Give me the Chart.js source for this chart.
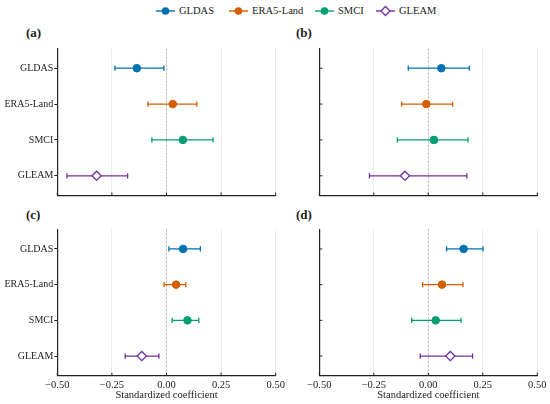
<!DOCTYPE html>
<html>
<head>
<meta charset="utf-8">
<script src="https://cdn.jsdelivr.net/npm/chart.js@4.4.0/dist/chart.umd.min.js"></script>
<style>
  body { margin: 0; width: 550px; height: 404px; background: #fff; position: relative; overflow: hidden;
         font-family: "Liberation Serif", "Times New Roman", serif; color: #222; }
  canvas { position: absolute; }
  .tag { position: absolute; font-weight: bold; font-size: 13px; line-height: 14px; }
  .leg { position: absolute; top: 4px; display: flex; align-items: center; font-size: 10.5px; line-height: 14px; }
  .leg svg { margin-right: 4px; }
</style>
</head>
<body>
<div class="leg" style="left:156px"><svg width="19" height="12"><line x1="0" y1="6" x2="19" y2="6" stroke="#0072B2" stroke-width="1.4"/><circle cx="9.5" cy="6" r="3.8" fill="#0072B2"/></svg>GLDAS</div>
<div class="leg" style="left:229px"><svg width="19" height="12"><line x1="0" y1="6" x2="19" y2="6" stroke="#D55E00" stroke-width="1.4"/><circle cx="9.5" cy="6" r="3.8" fill="#D55E00"/></svg>ERA5-Land</div>
<div class="leg" style="left:315px"><svg width="19" height="12"><line x1="0" y1="6" x2="19" y2="6" stroke="#009E73" stroke-width="1.4"/><circle cx="9.5" cy="6" r="3.8" fill="#009E73"/></svg>SMCI</div>
<div class="leg" style="left:376px"><svg width="19" height="12"><line x1="0" y1="6" x2="19" y2="6" stroke="#7030A0" stroke-width="1.4"/><path d="M5,6 L9.5,1.5 L14,6 L9.5,10.5 Z" fill="#fff" stroke="#7030A0" stroke-width="1.3"/></svg>GLEAM</div>

<div class="tag" style="left:26px;top:26px">(a)</div>
<div class="tag" style="left:296px;top:26px">(b)</div>
<div class="tag" style="left:26px;top:208px">(c)</div>
<div class="tag" style="left:296px;top:208px">(d)</div>

<canvas id="pa" width="285" height="165" style="left:0;top:40px"></canvas>
<canvas id="pb" width="265" height="165" style="left:285px;top:40px"></canvas>
<canvas id="pc" width="285" height="182" style="left:0;top:222px"></canvas>
<canvas id="pd" width="265" height="182" style="left:285px;top:222px"></canvas>

<script>
const cats = ["GLDAS", "ERA5-Land", "SMCI", "GLEAM"];
const colors = ["#0072B2", "#D55E00", "#009E73", "#7030A0"];
const xTicks = [-0.5, -0.25, 0, 0.25, 0.5];

// (a)
const estA = [-0.136, 0.029, 0.075, -0.32];
const loA = [-0.236, -0.085, -0.067, -0.456];
const hiA = [-0.012, 0.139, 0.213, -0.178];
// (b)
const estB = [0.06, -0.009, 0.026, -0.107];
const loB = [-0.092, -0.122, -0.142, -0.27];
const hiB = [0.188, 0.112, 0.182, 0.177];
// (c)
const estC = [0.076, 0.044, 0.096, -0.113];
const loC = [0.011, -0.011, 0.026, -0.189];
const hiC = [0.155, 0.088, 0.148, -0.035];
// (d)
const estD = [0.162, 0.063, 0.034, 0.101];
const loD = [0.084, -0.026, -0.076, -0.037];
const hiD = [0.251, 0.159, 0.15, 0.203];

const fonte = "'Liberation Serif', 'Times New Roman', serif";
const ink = "#222";

// error bars, dashed zero line and inward tick marks
const errorBars = {
  id: "errorBars",
  beforeDatasetsDraw(chart) {
    const { ctx, chartArea, scales: { x, y } } = chart;
    ctx.save();
    const x0 = x.getPixelForValue(0);
    ctx.strokeStyle = "#9a9a9a";
    ctx.lineWidth = 0.8;
    ctx.setLineDash([2, 2]);
    ctx.beginPath();
    ctx.moveTo(x0, chartArea.top);
    ctx.lineTo(x0, chartArea.bottom);
    ctx.stroke();
    ctx.setLineDash([]);
    chart.data.datasets.forEach((ds, i) => {
      const yy = y.getPixelForValue(ds.data[0].y);
      const a = x.getPixelForValue(ds.errLo);
      const b = x.getPixelForValue(ds.errHi);
      ctx.strokeStyle = ds.borderColor;
      ctx.lineWidth = 1.3;
      ctx.beginPath();
      ctx.moveTo(a, yy); ctx.lineTo(b, yy);
      ctx.moveTo(a, yy - 2.6); ctx.lineTo(a, yy + 2.6);
      ctx.moveTo(b, yy - 2.6); ctx.lineTo(b, yy + 2.6);
      ctx.stroke();
    });
    ctx.restore();
  },
  afterDraw(chart, args, opts) {
    const { ctx, chartArea, scales: { x, y } } = chart;
    ctx.save();
    ctx.strokeStyle = ink;
    ctx.lineWidth = 1;
    ctx.beginPath();
    xTicks.forEach(v => {
      const px = x.getPixelForValue(v);
      ctx.moveTo(px, chartArea.bottom);
      ctx.lineTo(px, chartArea.bottom - 3);
    });
    if (opts.yIn) {
      cats.forEach((c, i) => {
        const py = y.getPixelForValue(i);
        ctx.moveTo(chartArea.left, py);
        ctx.lineTo(chartArea.left + 3, py);
      });
    }
    ctx.stroke();
    ctx.restore();
  }
};

function fmt(v) {
  return v < 0 ? "\u2212" + Math.abs(v).toFixed(2) : v.toFixed(2);
}

function panel(id, est, lo, hi, box) {
  const { L, T, W, H, x0, x1, y0, y1, left, bottom } = box;
  return new Chart(document.getElementById(id), {
    type: "scatter",
    data: {
      datasets: cats.map((c, i) => ({
        label: c,
        data: [{ x: est[i], y: i }],
        errLo: lo[i],
        errHi: hi[i],
        pointStyle: i === 3 ? "rectRot" : "circle",
        pointRadius: i === 3 ? 4.6 : 3.8,
        backgroundColor: i === 3 ? "#fff" : colors[i],
        borderColor: colors[i],
        borderWidth: i === 3 ? 1.3 : 1,
      })),
    },
    options: {
      responsive: false,
      animation: false,
      layout: { padding: { left: 0, top: y0 - T, right: L + W - x1, bottom: 0 } },
      plugins: {
        legend: { display: false },
        tooltip: { enabled: false },
        errorBars: { yIn: !left },
      },
      scales: {
        x: {
          type: "linear",
          min: -0.5,
          max: 0.5,
          afterBuildTicks: s => { s.ticks = xTicks.map(v => ({ value: v })); },
          afterFit: s => { s.height = T + H - y1; s.paddingLeft = 0; s.paddingRight = 0; },
          ticks: {
            autoSkip: false,
            maxRotation: 0,
            padding: 3,
            color: ink,
            font: { family: fonte, size: 10.5 },
            callback: v => (bottom ? fmt(v) : ""),
          },
          grid: {
            color: ctx => (ctx.tick && ctx.tick.value === 0 ? "rgba(0,0,0,0)" : "#e4e4e4"),
            lineWidth: 0.8,
            drawTicks: false,
          },
          border: { color: ink, width: 1.2 },
          title: {
            display: bottom,
            text: "Standardized coefficient",
            color: ink,
            font: { family: fonte, size: 10.5 },
            padding: { top: 0, bottom: 2 },
          },
        },
        y: {
          type: "linear",
          reverse: true,
          min: -0.55,
          max: 3.55,
          afterBuildTicks: s => { s.ticks = cats.map((c, i) => ({ value: i })); },
          afterFit: s => { s.width = x0 - L; s.paddingTop = 0; s.paddingBottom = 0; },
          ticks: {
            autoSkip: false,
            padding: 1,
            color: ink,
            font: { family: fonte, size: 10 },
            callback: v => (left ? cats[v] : ""),
          },
          grid: {
            drawOnChartArea: false,
            drawTicks: left,
            tickLength: 3,
            tickColor: ink,
            tickWidth: 1,
          },
          border: { color: ink, width: 1.2 },
        },
      },
    },
    plugins: [errorBars],
  });
}

panel("pa", estA, loA, hiA, { L: 0, T: 40, W: 285, H: 165, x0: 57.3, x1: 275.7, y0: 48.5, y1: 195.5, left: true, bottom: false });
panel("pb", estB, loB, hiB, { L: 285, T: 40, W: 265, H: 165, x0: 319.3, x1: 537.3, y0: 48.5, y1: 195.5, left: false, bottom: false });
panel("pc", estC, loC, hiC, { L: 0, T: 222, W: 285, H: 182, x0: 57.3, x1: 275.7, y0: 229.3, y1: 375.7, left: true, bottom: true });
panel("pd", estD, loD, hiD, { L: 285, T: 222, W: 265, H: 182, x0: 319.3, x1: 537.3, y0: 229.3, y1: 375.7, left: false, bottom: true });
</script>
</body>
</html>
